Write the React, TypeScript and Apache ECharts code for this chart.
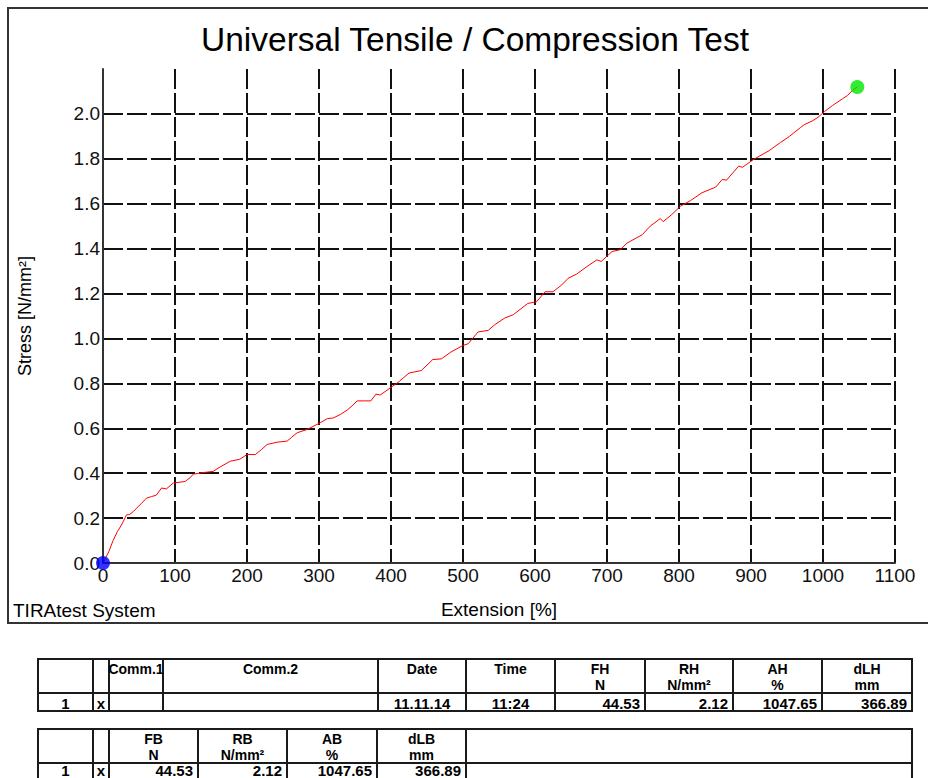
import React, { useEffect, useRef } from "react";
import * as echarts from "echarts";

// ---- Data ----
const extensionPct: number[] = [
  0, 8, 14, 20, 25.6, 32.6, 37, 42, 53.5, 60.5, 67.5, 74, 81.4, 88, 97.6, 114, 121, 125.5, 140, 153,
  162.8, 176.7, 190, 200, 211.6, 220, 228, 241.8, 255.8, 262, 269.7, 283.7, 302, 311.6, 320, 330,
  339.5, 346, 353, 362, 372, 379, 385, 400, 412, 425, 442, 458, 470, 483, 500, 507, 521, 535, 544,
  558, 570, 590, 602, 614, 625, 637, 646, 658, 672, 686, 692, 707, 718, 728, 749, 760, 774, 778, 790,
  802, 816, 832, 851, 860, 866, 883, 888, 904, 925, 941, 953, 969, 974, 986, 993, 1002, 1013, 1027,
  1034, 1041, 1047.65,
];
const stressNmm2: number[] = [
  0, 0.05, 0.1, 0.14, 0.169, 0.214, 0.216, 0.229, 0.266, 0.289, 0.296, 0.302, 0.334, 0.33, 0.356,
  0.363, 0.38, 0.396, 0.403, 0.408, 0.428, 0.453, 0.462, 0.483, 0.483, 0.505, 0.528, 0.538, 0.543,
  0.56, 0.58, 0.595, 0.625, 0.643, 0.646, 0.662, 0.682, 0.7, 0.722, 0.722, 0.722, 0.752, 0.748,
  0.782, 0.81, 0.846, 0.857, 0.906, 0.909, 0.939, 0.969, 0.976, 1.029, 1.036, 1.061, 1.091, 1.106,
  1.156, 1.163, 1.208, 1.208, 1.238, 1.268, 1.287, 1.32, 1.35, 1.343, 1.387, 1.395, 1.425, 1.462,
  1.5, 1.534, 1.52, 1.552, 1.589, 1.614, 1.649, 1.674, 1.708, 1.705, 1.768, 1.762, 1.798, 1.836,
  1.873, 1.899, 1.94, 1.952, 1.97, 1.985, 2.01, 2.037, 2.067, 2.082, 2.105, 2.12,
];
const startPoint: number[] = [0, 0];
const breakPoint: number[] = [1047.65, 2.12];

const chartTitle = "Universal Tensile / Compression Test";
const xAxisName = "Extension [%]";
const yAxisName = "Stress [N/mm²]";
const footerLabel = "TIRAtest System";

const table1Header: string[] = ["", "", "Comm.1", "Comm.2", "Date", "Time", "FH\nN", "RH\nN/mm²", "AH\n%", "dLH\nmm"];
const table1Row: string[] = ["1", "x", "", "", "11.11.14", "11:24", "44.53", "2.12", "1047.65", "366.89"];
const table2Header: string[] = ["", "", "FB\nN", "RB\nN/mm²", "AB\n%", "dLB\nmm", ""];
const table2Row: string[] = ["1", "x", "44.53", "2.12", "1047.65", "366.89", ""];

const FONT = "'Liberation Sans', Arial, Helvetica, sans-serif";

function buildTable(
  cols: number[],
  top: number,
  sep: number,
  bottom: number,
  rowTextY: number,
  header: string[],
  row: string[],
  rowAlign: string[]
): any[] {
  const els: any[] = [];
  const stroke = "#1a1a1a";
  els.push({
    type: "rect",
    shape: { x: cols[0], y: top, width: cols[cols.length - 1] - cols[0], height: bottom - top },
    style: { fill: "none", stroke, lineWidth: 2 },
    silent: true,
  });
  els.push({
    type: "line",
    shape: { x1: cols[0], y1: sep, x2: cols[cols.length - 1], y2: sep },
    style: { stroke, lineWidth: 2 },
    silent: true,
  });
  for (let i = 1; i < cols.length - 1; i++) {
    els.push({
      type: "line",
      shape: { x1: cols[i], y1: top, x2: cols[i], y2: bottom },
      style: { stroke, lineWidth: 2 },
      silent: true,
    });
  }
  const font = { fontFamily: FONT, fontSize: 14, fontWeight: "bold" };
  header.forEach((t, i) => {
    if (!t) return;
    const cx = (cols[i] + cols[i + 1]) / 2;
    t.split("\n").forEach((line, li) => {
      els.push({
        type: "text",
        x: cx,
        y: top + 9.5 + li * 16,
        silent: true,
        style: {
          text: line,
          ...font,
          fill: "#000",
          align: "center",
          verticalAlign: "middle",
          textAlign: "center",
          textVerticalAlign: "middle",
        },
      });
    });
  });
  row.forEach((t, i) => {
    if (!t) return;
    const a = rowAlign[i];
    const x = a === "right" ? cols[i + 1] - 5 : a === "left" ? cols[i] + 4 : (cols[i] + cols[i + 1]) / 2;
    els.push({
      type: "text",
      x,
      y: rowTextY,
      silent: true,
      style: {
        text: t,
        fontFamily: FONT,
        fontSize: 15,
        fontWeight: "bold",
        fill: "#000",
        align: a,
        verticalAlign: "middle",
        textAlign: a,
        textVerticalAlign: "middle",
      },
    });
  });
  return els;
}

export default function App() {
  const ref = useRef<HTMLDivElement>(null);

  useEffect(() => {
    if (!ref.current) return;
    const chart = echarts.init(ref.current, null, { renderer: "svg" });

    const lineData = extensionPct.map((x, i) => [x, stressNmm2[i]]);
    const gridLine = { color: "#111", width: 2, type: [20, 4] as any };

    const table1 = buildTable(
      [38, 93, 109, 163, 378, 466, 555, 645, 733, 822, 912],
      659,
      693,
      711,
      703,
      table1Header,
      table1Row,
      ["center", "center", "left", "left", "center", "center", "right", "right", "right", "right"]
    );
    const table2 = buildTable(
      [38, 93, 109, 198, 287, 377, 466, 912],
      729,
      763,
      781,
      770,
      table2Header,
      table2Row,
      ["center", "center", "right", "right", "right", "right", "left"]
    );

    const option: any = {
      animation: false,
      backgroundColor: "#ffffff",
      title: {
        text: chartTitle,
        left: 475,
        top: 22,
        textAlign: "center",
        padding: 0,
        textStyle: { fontFamily: FONT, fontSize: 33.5, fontWeight: "normal", color: "#000" },
      },
      grid: { left: 103, right: 33, top: 69, bottom: 215 },
      xAxis: {
        type: "value",
        min: 0,
        max: 1100,
        interval: 100,
        name: xAxisName,
        nameLocation: "middle",
        nameGap: 37,
        nameTextStyle: { fontFamily: FONT, fontSize: 19, color: "#000" },
        axisLine: { show: true, onZero: false, lineStyle: { color: "#333", width: 2 } },
        axisTick: { show: false },
        axisLabel: {
          fontFamily: FONT,
          fontSize: 19,
          color: "#111",
          margin: 3,
          formatter: (v: number) => String(v),
        },
        splitLine: { show: true, lineStyle: gridLine },
      },
      yAxis: {
        type: "value",
        min: 0,
        max: 2.2,
        interval: 0.2,
        name: yAxisName,
        nameLocation: "middle",
        nameGap: 69,
        nameTextStyle: { fontFamily: FONT, fontSize: 18, color: "#000" },
        axisLine: { show: true, onZero: false, lineStyle: { color: "#333", width: 2 } },
        axisTick: { show: false },
        axisLabel: {
          fontFamily: FONT,
          fontSize: 19,
          color: "#111",
          margin: 3,
          padding: [0, 0, 10, 0],
          showMaxLabel: false,
          formatter: (v: number) => v.toFixed(1),
        },
        splitLine: { show: true, showMaxLine: false, lineStyle: gridLine },
      },
      series: [
        {
          type: "line",
          data: lineData,
          showSymbol: false,
          symbol: "none",
          lineStyle: { color: "#ff0000", width: 1 },
          z: 3,
        },
        {
          type: "scatter",
          data: [startPoint],
          symbol: "circle",
          symbolSize: 14,
          clip: false,
          itemStyle: { color: "#0000ff" },
          z: 4,
        },
        {
          type: "scatter",
          data: [breakPoint],
          symbol: "circle",
          symbolSize: 14,
          clip: false,
          itemStyle: { color: "#00e600" },
          z: 4,
        },
      ],
      graphic: [
        {
          type: "rect",
          shape: { x: 8, y: 8, width: 940, height: 615 },
          style: { fill: "none", stroke: "#333", lineWidth: 2 },
          silent: true,
          z: 0,
        },
        {
          type: "text",
          x: 13,
          y: 610,
          silent: true,
          style: {
            text: footerLabel,
            fontFamily: FONT,
            fontSize: 19,
            fill: "#000",
            align: "left",
            verticalAlign: "middle",
            textAlign: "left",
            textVerticalAlign: "middle",
          },
        },
        ...table1,
        ...table2,
      ],
    };

    chart.setOption(option);
    return () => chart.dispose();
  }, []);

  return (
    <div
      ref={ref}
      style={{ position: "absolute", left: 0, top: 0, width: 928, height: 778, background: "#fff" }}
    />
  );
}
